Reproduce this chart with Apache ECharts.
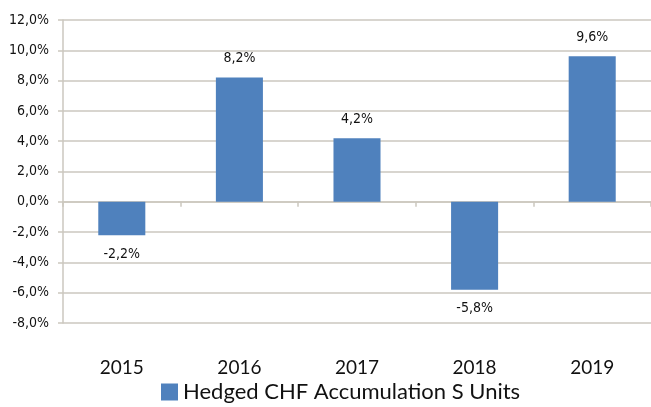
<!DOCTYPE html>
<html>
<head>
<meta charset="utf-8">
<script src="https://cdn.jsdelivr.net/npm/echarts@6/dist/echarts.min.js"></script>
<style>
  html, body { margin: 0; padding: 0; background: #fff; }
  #chart { width: 651px; height: 407px; }
</style>
</head>
<body>
<div id="chart"></div>
<script>
// chart data
const years = ['2015', '2016', '2017', '2018', '2019'];
const returns = [-2.2, 8.2, 4.2, -5.8, 9.6];
const seriesName = 'Hedged CHF Accumulation S Units';

const gridColor = '#CBC7BF';
const fmt = v => v.toFixed(1).replace('.', ',') + '%';

const chart = echarts.init(document.getElementById('chart'));
chart.setOption({
  animation: false,
  grid: { left: 63, right: 0, top: 20, bottom: 84 },
  legend: {
    bottom: -1,
    left: 156,
    itemWidth: 17,
    itemHeight: 17,
    itemGap: 6,
    icon: 'rect',
    textStyle: { fontFamily: 'Lato', fontSize: 22, color: '#111' },
    data: [seriesName]
  },
  xAxis: [
    {
      type: 'category',
      data: years,
      axisLine: { onZero: true, lineStyle: { color: gridColor, width: 1.5 } },
      axisTick: { show: true, length: 5, lineStyle: { color: gridColor, width: 1.5 } },
      axisLabel: { show: false }
    },
    {
      type: 'category',
      data: years,
      position: 'bottom',
      axisLine: { show: false },
      axisTick: { show: false },
      axisLabel: { margin: 35, fontFamily: 'Lato', fontSize: 19, color: '#111' }
    }
  ],
  yAxis: {
    type: 'value',
    min: -8,
    max: 12,
    interval: 2,
    axisLine: { show: true, lineStyle: { color: gridColor, width: 1.5 } },
    axisTick: { show: true, length: 5, lineStyle: { color: gridColor, width: 1.5 } },
    splitLine: { lineStyle: { color: gridColor, width: 1.5 } },
    axisLabel: {
      margin: 14,
      fontFamily: 'DejaVu Sans Condensed, DejaVu Sans',
      fontSize: 14,
      color: '#111',
      formatter: fmt
    }
  },
  series: [{
    name: seriesName,
    type: 'bar',
    xAxisIndex: 0,
    data: returns,
    barWidth: '40%',
    itemStyle: { color: '#4F81BD' },
    label: {
      show: true,
      position: 'outside',
      distance: 12,
      fontFamily: 'DejaVu Sans Condensed, DejaVu Sans',
      fontSize: 14,
      color: '#111',
      formatter: p => fmt(p.value)
    }
  }]
});
</script>
</body>
</html>
